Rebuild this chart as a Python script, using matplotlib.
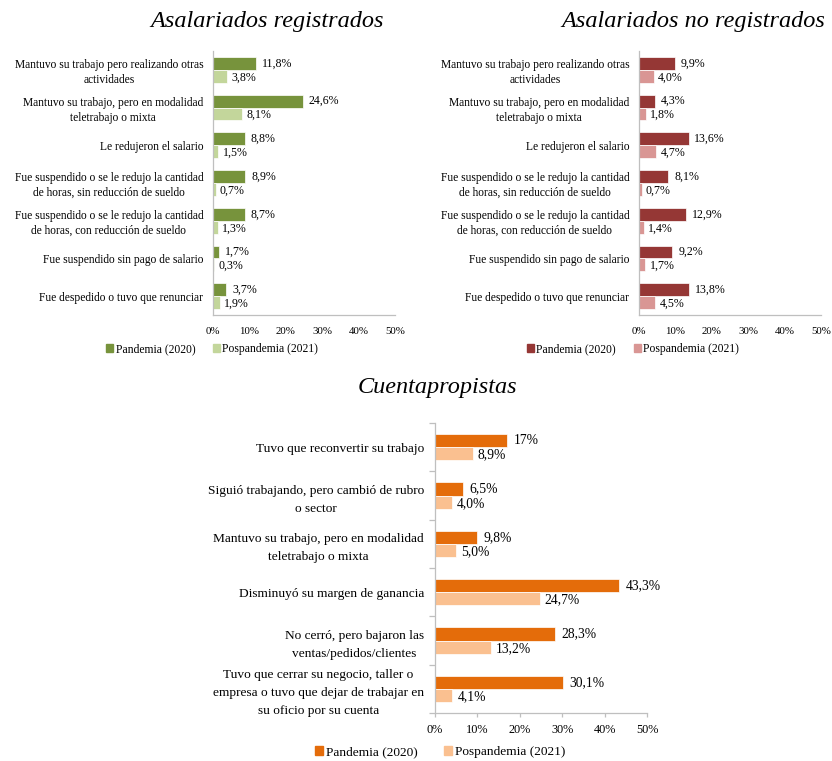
import matplotlib
matplotlib.use("Agg")
import matplotlib.pyplot as plt
from matplotlib.patches import Patch
import numpy as np

plt.rcParams['font.family'] = ['Liberation Serif', 'DejaVu Serif']

# ---------------- data ----------------
reg_categories = [
    "Mantuvo su trabajo pero realizando otras\nactividades",
    "Mantuvo su trabajo, pero en modalidad\nteletrabajo o mixta",
    "Le redujeron el salario",
    "Fue suspendido o se le redujo la cantidad\nde horas, sin reducción de sueldo",
    "Fue suspendido o se le redujo la cantidad\nde horas, con reducción de sueldo",
    "Fue suspendido sin pago de salario",
    "Fue despedido o tuvo que renunciar",
]
reg_pandemia = [11.8, 24.6, 8.8, 8.9, 8.7, 1.7, 3.7]
reg_pospandemia = [3.8, 8.1, 1.5, 0.7, 1.3, 0.3, 1.9]

noreg_categories = reg_categories
noreg_pandemia = [9.9, 4.3, 13.6, 8.1, 12.9, 9.2, 13.8]
noreg_pospandemia = [4.0, 1.8, 4.7, 0.7, 1.4, 1.7, 4.5]

cta_categories = [
    "Tuvo que reconvertir su trabajo",
    "Siguió trabajando, pero cambió de rubro\no sector",
    "Mantuvo su trabajo, pero en modalidad\nteletrabajo o mixta",
    "Disminuyó su margen de ganancia",
    "No cerró, pero bajaron las\nventas/pedidos/clientes",
    "Tuvo que cerrar su negocio, taller o\nempresa o tuvo que dejar de trabajar en\nsu oficio por su cuenta",
]
cta_pandemia = [17, 6.5, 9.8, 43.3, 28.3, 30.1]
cta_pandemia_decimals = [0, 1, 1, 1, 1, 1]
cta_pospandemia = [8.9, 4.0, 5.0, 24.7, 13.2, 4.1]

x_ticks = [0, 10, 20, 30, 40, 50]
x_ticklabels = ["0%", "10%", "20%", "30%", "40%", "50%"]
series_names = ["Pandemia (2020)", "Pospandemia (2021)"]


def fmt(v, d=1):
    return (f"{v:.{d}f}%").replace(".", ",")


W, H = 832, 761
fig = plt.figure(figsize=(W / 100, H / 100), dpi=100)


def px_axes(x0, y0, x1, y1):
    return fig.add_axes([x0 / W, 1 - y1 / H, (x1 - x0) / W, (y1 - y0) / H])


def draw_panel(ax, cats, pand, posp, c_dark, c_light, bh, fs_cat, fs_tick, fs_val,
               pand_dec=None, ticks_out=False, lsp=1.5):
    n = len(cats)
    y = np.arange(n)
    ax.barh(y - bh / 2, pand, height=bh, color=c_dark, edgecolor='white', linewidth=0.5)
    ax.barh(y + bh / 2, posp, height=bh, color=c_light, edgecolor='white', linewidth=0.5)
    ax.set_ylim(n - 0.5, -0.5)
    ax.set_xlim(0, 50)
    ax.set_yticks(y)
    ax.set_yticklabels(cats, fontsize=fs_cat, multialignment='center', linespacing=lsp)
    ax.set_xticks(x_ticks)
    ax.set_xticklabels(x_ticklabels, fontsize=fs_tick)
    for s in ['top', 'right']:
        ax.spines[s].set_visible(False)
    for s in ['left', 'bottom']:
        ax.spines[s].set_color('#BFBFBF')
        ax.spines[s].set_linewidth(0.9)
    if ticks_out:
        ax.tick_params(axis='both', length=3, color='#BFBFBF', width=0.9, pad=5)
        ax.set_yticks(np.arange(n + 1) - 0.5, minor=True)
        ax.tick_params(axis='y', which='major', length=0, pad=8)
        ax.tick_params(axis='y', which='minor', length=4, color='#BFBFBF', width=0.9)
    else:
        ax.tick_params(axis='both', length=0)
        ax.tick_params(axis='x', pad=9)
        ax.tick_params(axis='y', pad=7)
    for i in range(n):
        d = pand_dec[i] if pand_dec is not None else 1
        ax.text(pand[i] + 1.6, i - bh / 2, fmt(pand[i], d), va='center', ha='left',
                fontsize=fs_val)
        ax.text(posp[i] + 1.2, i + bh / 2 + 0.03, fmt(posp[i]), va='center', ha='left',
                fontsize=fs_val)


# top-left
ax1 = px_axes(213, 51, 395, 315)
draw_panel(ax1, reg_categories, reg_pandemia, reg_pospandemia,
           '#77933C', '#C3D69B', 0.34, 8.3, 7.8, 8.6, lsp=1.3)
fig.text(267 / W, 1 - 22 / H, "Asalariados registrados", ha='center', va='center',
         fontsize=17.5, style='italic')
fig.legend(handles=[Patch(color='#77933C'), Patch(color='#C3D69B')], labels=series_names,
           loc='center', bbox_to_anchor=(212 / W, 1 - 349 / H), ncol=2, frameon=False,
           fontsize=8.4, handlelength=0.6, handleheight=0.6, handletextpad=0.2,
           columnspacing=1.5)

# top-right
ax2 = px_axes(639, 51, 821, 315)
draw_panel(ax2, noreg_categories, noreg_pandemia, noreg_pospandemia,
           '#953735', '#D99694', 0.34, 8.3, 7.8, 8.6, lsp=1.3)
fig.text(693 / W, 1 - 22 / H, "Asalariados no registrados", ha='center', va='center',
         fontsize=17.5, style='italic')
fig.legend(handles=[Patch(color='#953735'), Patch(color='#D99694')], labels=series_names,
           loc='center', bbox_to_anchor=(633 / W, 1 - 349 / H), ncol=2, frameon=False,
           fontsize=8.4, handlelength=0.6, handleheight=0.6, handletextpad=0.2,
           columnspacing=1.5)

# bottom
ax3 = px_axes(435, 423, 647, 713)
draw_panel(ax3, cta_categories, cta_pandemia, cta_pospandemia,
           '#E46C0A', '#FAC090', 0.27, 9.6, 8.8, 9.8, pand_dec=cta_pandemia_decimals,
           ticks_out=True, lsp=1.65)
fig.text(437 / W, 1 - 387 / H, "Cuentapropistas", ha='center', va='center',
         fontsize=17.5, style='italic')
fig.legend(handles=[Patch(color='#E46C0A'), Patch(color='#FAC090')], labels=series_names,
           loc='center', bbox_to_anchor=(440 / W, 1 - 752 / H), ncol=2, frameon=False,
           fontsize=9.6, handlelength=0.6, handleheight=0.6, handletextpad=0.2,
           columnspacing=2.0)

fig.savefig("out.png", dpi=100, facecolor='white')
